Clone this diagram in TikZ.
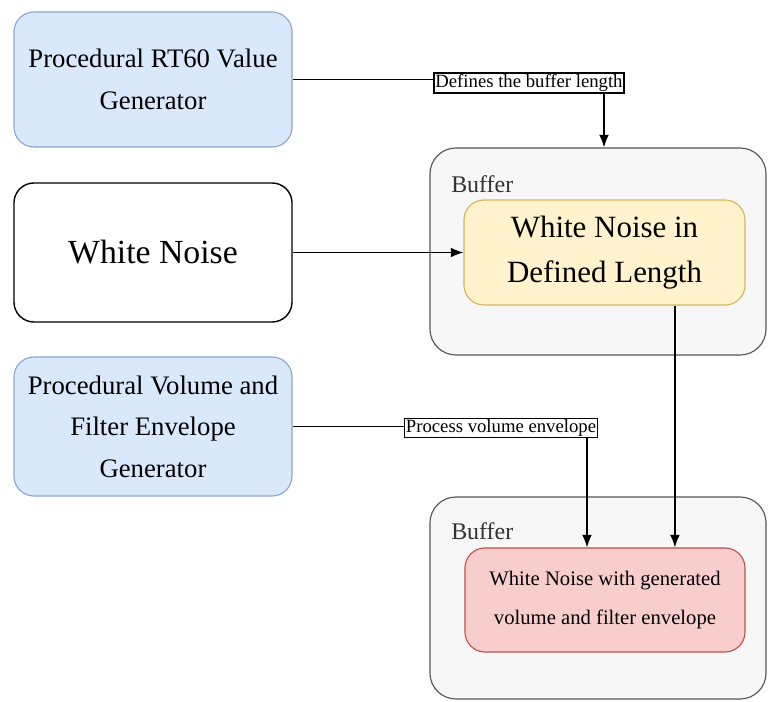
\documentclass[tikz,border=0pt]{standalone}
\usepackage{fontspec}
\setmainfont{Liberation Serif}
\usetikzlibrary{arrows.meta}

\definecolor{genfill}{HTML}{DAE8FC}
\definecolor{gendraw}{HTML}{8AA6D0}
\definecolor{buffill}{HTML}{F7F7F7}
\definecolor{bufdraw}{HTML}{555555}
\definecolor{lenfill}{HTML}{FFF2CC}
\definecolor{lendraw}{HTML}{D6B656}
\definecolor{envfill}{HTML}{F8CECC}
\definecolor{envdraw}{HTML}{C0504D}

\begin{document}
\begin{tikzpicture}[x=0.025cm, y=-0.025cm,
  block/.style={rounded corners=0.5cm, line width=0.8pt, align=center,
    minimum width=6.95cm, inner sep=0pt},
  gen/.style={block, fill=genfill, draw=gendraw,
    font=\fontsize{19}{29.5}\selectfont},
  buf/.style={rounded corners=0.65cm, draw=bufdraw, fill=buffill,
    line width=0.8pt, minimum width=8.4cm, inner sep=0pt},
  buftext/.style={anchor=west, inner sep=0pt, text=black!80,
    font=\fontsize{17}{20}\selectfont},
  edgelabel/.style={draw, fill=white, inner sep=1pt, line width=0.8pt,
    font=\fontsize{13.3}{15}\selectfont},
  arr/.style={-{Latex[length=9pt,width=7pt]}, line width=1pt}]
  \useasboundingbox (0,0) rectangle (769,702);

  \node[gen, minimum height=3.375cm] (rt) at (153,79.5)
    {Procedural RT60 Value\\Generator};
  \node[block, draw, fill=white, line width=1pt, minimum height=3.475cm,
    font=\fontsize{24}{30}\selectfont] (wn) at (153,252.5) {White Noise};
  \node[gen, minimum height=3.475cm] (vol) at (153,426.5)
    {Procedural Volume and\\Filter Envelope\\Generator};

  \node[buf, minimum height=5.175cm] (buf1) at (598,251.5) {};
  \node[buftext] (buf1t) at (451,184.5) {Buffer};
  \node[block, fill=lenfill, draw=lendraw, minimum width=7.025cm,
    minimum height=2.625cm, font=\fontsize{22}{32}\selectfont]
    (len) at (604.5,252.5) {White Noise in\\Defined Length};

  \node[buf, minimum height=5.05cm] (buf2) at (598,598) {};
  \node[buftext] (buf2t) at (451,531) {Buffer};
  \node[block, fill=envfill, draw=envdraw, minimum width=7cm,
    minimum height=2.6cm, font=\fontsize{14.7}{28.4}\selectfont]
    (env) at (605,600) {White Noise with generated\\volume and filter envelope};

  \draw[arr] (rt.east) -| ([xshift=0.15cm]buf1.north);
  \node[edgelabel] (deflen) at (529,83) {Defines the buffer length};
  \draw[arr] (wn.east) -- (len.west);
  \draw[arr] ([xshift=1.76cm]len.south) -- ([xshift=1.76cm]len.south |- env.north);
  \draw[arr] (vol.east) -| ([xshift=-0.45cm]env.north);
  \node[edgelabel] (proc) at (501,428) {Process volume envelope};
\end{tikzpicture}
\end{document}
